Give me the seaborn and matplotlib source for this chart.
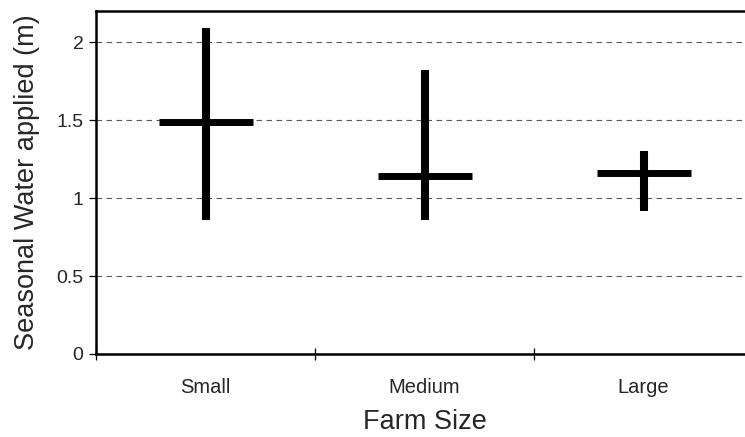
import matplotlib
matplotlib.use("Agg")
import matplotlib.pyplot as plt
import pandas as pd
import seaborn as sns

# values
farm_size = ["Small", "Medium", "Large"]
water_mean = [1.49, 1.14, 1.16]
water_low = [0.86, 0.86, 0.92]
water_high = [2.09, 1.82, 1.30]
y_ticks = [0, 0.5, 1, 1.5, 2]
y_tick_labels = ["0", "0.5", "1", "1.5", "2"]

df = pd.DataFrame(
    {"farm": farm_size, "mean": water_mean, "low": water_low, "high": water_high}
)

sns.set_style("white")
plt.rcParams["font.family"] = ["Liberation Sans", "DejaVu Sans"]

fig = plt.figure(figsize=(7.45, 4.37), dpi=100)
# axes run slightly past the right edge, like the cropped original
ax = fig.add_axes([0.129, 0.19, 0.882, 0.785])

# range lines (min to max)
ax.vlines(
    x=range(len(df)), ymin=df["low"], ymax=df["high"],
    color="black", linewidth=5.8, capstyle="butt", zorder=3,
)
# mean marks
sns.scatterplot(
    data=df, x="farm", y="mean", marker="_", s=4580,
    linewidth=5.0, color="black", ax=ax, zorder=3, legend=False,
)

ax.set_xlim(-0.5, 2.5)
ax.set_ylim(0, 2.2)
ax.set_yticks(y_ticks)
ax.set_yticklabels(y_tick_labels)

# dashed grid lines
ax.yaxis.grid(True, linestyle=(0, (5, 4)), color="0.35", linewidth=0.8)
ax.xaxis.grid(False)
ax.set_axisbelow(True)

# category boundary ticks
ax.set_xticks([-0.5, 0.5, 1.5, 2.5], minor=True)
ax.tick_params(axis="x", which="major", length=0, labelsize=14.5, pad=17,
               bottom=True)
ax.tick_params(axis="x", which="minor", length=9, width=0.9, bottom=True,
               direction="inout", color="black")
ax.tick_params(axis="y", which="major", length=5, width=0.9,
               direction="out", color="black", labelsize=14, pad=4, left=True)

for side in ["left", "bottom", "top"]:
    ax.spines[side].set_visible(True)
    ax.spines[side].set_color("black")
    ax.spines[side].set_linewidth(1.8)
ax.spines["right"].set_visible(False)

ax.set_xlabel("Farm Size", fontsize=19.5, labelpad=9)
ax.set_ylabel("Seasonal Water applied (m)", fontsize=19.5, labelpad=12)

fig.savefig("out.png", dpi=100)
